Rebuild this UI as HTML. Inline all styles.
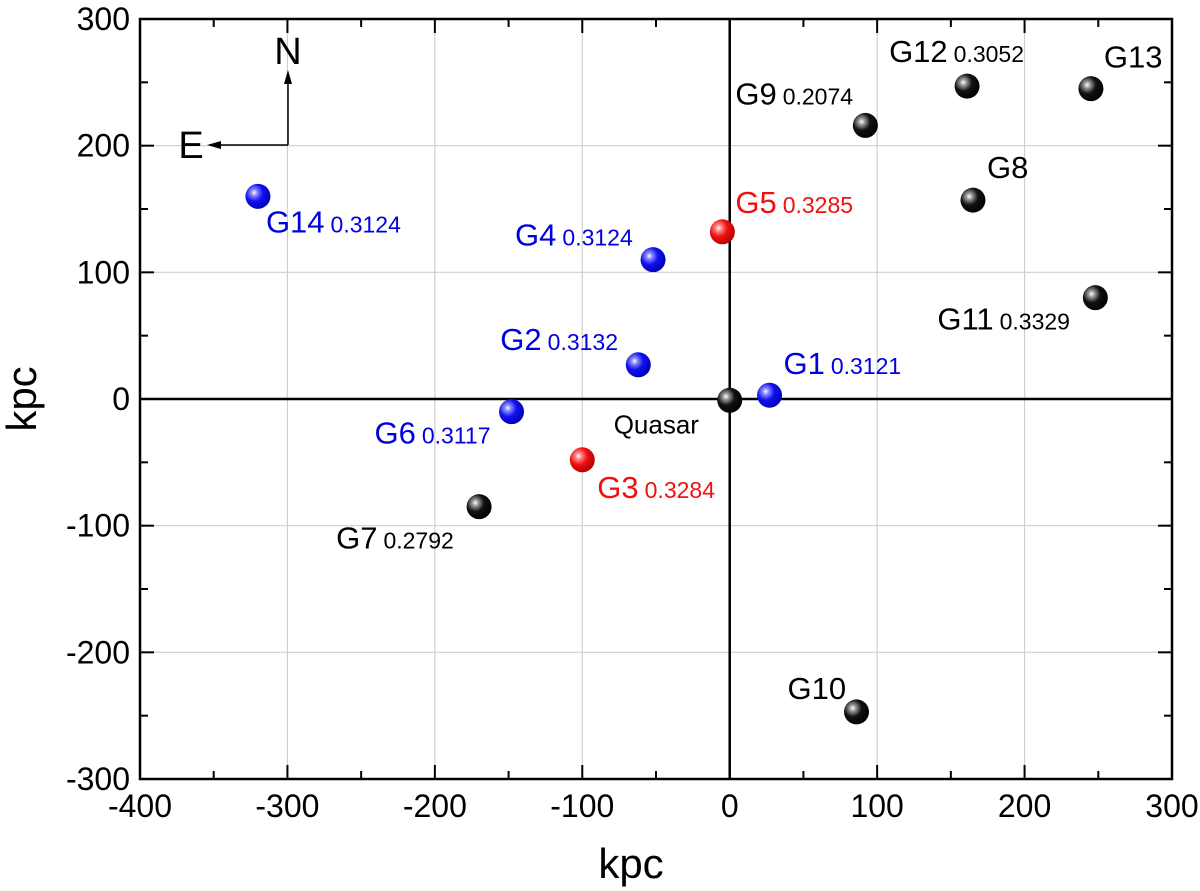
<!DOCTYPE html>
<html><head><meta charset="utf-8"><style>
html,body{margin:0;padding:0;background:#fff;}
svg{display:block;font-family:"Liberation Sans",Arial,sans-serif;}
</style></head><body>
<svg id="chart" width="1200" height="891" viewBox="0 0 1200 891">
<defs>
<radialGradient id="gBlack" cx="0.35" cy="0.35" r="0.7"><stop offset="0" stop-color="#fff"/><stop offset="0.18" stop-color="#999"/><stop offset="0.5" stop-color="#111"/><stop offset="1" stop-color="#000"/></radialGradient>
<radialGradient id="gBlue" cx="0.35" cy="0.35" r="0.7"><stop offset="0" stop-color="#fff"/><stop offset="0.18" stop-color="#88f"/><stop offset="0.5" stop-color="#1010f0"/><stop offset="1" stop-color="#0000b0"/></radialGradient>
<radialGradient id="gRed" cx="0.35" cy="0.35" r="0.7"><stop offset="0" stop-color="#fff"/><stop offset="0.18" stop-color="#f88"/><stop offset="0.5" stop-color="#f01010"/><stop offset="1" stop-color="#b00000"/></radialGradient>
</defs>
<g id="grid"></g>
<g id="axes"></g>
<g id="marks"></g>
<g>
<line x1="288" y1="145" x2="288" y2="80" stroke="#000" stroke-width="1.5"/>
<polygon points="288,70 284,84 292,84" fill="#000"/>
<line x1="288" y1="145" x2="215" y2="145" stroke="#000" stroke-width="1.5"/>
<polygon points="207,145 221,141 221,149" fill="#000"/>
<text x="288" y="64" font-size="38" text-anchor="middle">N</text>
<text x="191" y="158" font-size="38" text-anchor="middle">E</text>
</g>
<text x="631" y="878" font-size="42" text-anchor="middle">kpc</text>
<text x="0" y="0" font-size="42" text-anchor="middle" transform="translate(36,399) rotate(-90)">kpc</text>
</svg>
<script>
const names=["G14","G4","G5","G2","G1","Quasar","G6","G3","G7","G9","G12","G13","G8","G11","G10"];
const xVals=[-320,-52,-5,-62,27,0,-148,-100,-170,92,161,245,165,248,86];
const yVals=[160,110,132,27,3,-1,-10,-48,-85,216,247,245,157,80,-247];
const redshifts=["0.3124","0.3124","0.3285","0.3132","0.3121","","0.3117","0.3284","0.2792","0.2074","0.3052","","","0.3329",""];
const colorGroups=["blue","blue","red","blue","blue","black","blue","red","black","black","black","black","black","black","black"];
const xTicks=[-400,-300,-200,-100,0,100,200,300];
const yTicks=[-300,-200,-100,0,100,200,300];
const labelOffsets=[[8,36],[-138,-14],[13,-19],[-138,-15],[14,-21],[-116,33],[-137,32],[15,38],[-143,42],[-130,-21],[-78,-24],[13,-21],[14,-22],[-158,32],[-69,-13]];
const L=140,R=1172,T=19,B=779;
const sx=v=>L+(v+400)/700*(R-L);
const sy=v=>B-(v+300)/600*(B-T);
const NS="http://www.w3.org/2000/svg";
function mk(tag,attrs,parent){const e=document.createElementNS(NS,tag);for(const k in attrs)e.setAttribute(k,attrs[k]);parent.appendChild(e);return e;}
const grid=document.getElementById('grid'),axes=document.getElementById('axes'),marks=document.getElementById('marks');
xTicks.forEach(t=>{if(t>-400&&t<300&&t!==0){const g=mk('line',{x1:sx(t),x2:sx(t),y1:T,y2:B,stroke:'#cfcfcf','stroke-width':1.2},grid);

}});
yTicks.forEach(t=>{if(t>-300&&t<300&&t!==0){const g=mk('line',{x1:L,x2:R,y1:sy(t),y2:sy(t),stroke:'#cfcfcf','stroke-width':1.2},grid);

}});
const z1=mk('line',{x1:sx(0),x2:sx(0),y1:T,y2:B,stroke:'#000','stroke-width':2.5},axes);


const z2=mk('line',{x1:L,x2:R,y1:sy(0),y2:sy(0),stroke:'#000','stroke-width':2.5},axes);


const fr=mk('rect',{x:L,y:T,width:R-L,height:B-T,fill:'none',stroke:'#000','stroke-width':2.5},axes);


for(let v=-400;v<=300;v+=50){const major=v%100===0;const len=major?14:8;
mk('line',{x1:sx(v),x2:sx(v),y1:B,y2:B-len,stroke:'#000','stroke-width':2},axes);
mk('line',{x1:sx(v),x2:sx(v),y1:T,y2:T+len,stroke:'#000','stroke-width':2},axes);}
for(let v=-300;v<=300;v+=50){const major=v%100===0;const len=major?14:8;
mk('line',{x1:L,x2:L+len,y1:sy(v),y2:sy(v),stroke:'#000','stroke-width':2},axes);
mk('line',{x1:R,x2:R-len,y1:sy(v),y2:sy(v),stroke:'#000','stroke-width':2},axes);}
xTicks.forEach(t=>{const e=mk('text',{x:sx(t),y:B+38,'font-size':32,'text-anchor':'middle'},axes);e.textContent=t;

});
yTicks.forEach(t=>{const e=mk('text',{x:L-10,y:sy(t)+11,'font-size':32,'text-anchor':'end'},axes);e.textContent=t;

});
const fills={black:'url(#gBlack)',blue:'url(#gBlue)',red:'url(#gRed)'};
const textCol={black:'#000',blue:'#0000e0',red:'#f01010'};
names.forEach((n,i)=>{const cx=sx(xVals[i]),cy=sy(yVals[i]);
const c=mk('circle',{cx:cx,cy:cy,r:12.5,fill:fills[colorGroups[i]]},marks);


const o=labelOffsets[i];
const t=mk('text',{x:cx+o[0],y:cy+o[1],fill:textCol[colorGroups[i]],'font-size':n==='Quasar'?26:31},marks);


t.appendChild(document.createTextNode(n));
if(redshifts[i]){const s=document.createElementNS(NS,'tspan');s.setAttribute('font-size','23');s.setAttribute('dx','6');s.textContent=redshifts[i];t.appendChild(s);}
});
</script>
</body></html>
